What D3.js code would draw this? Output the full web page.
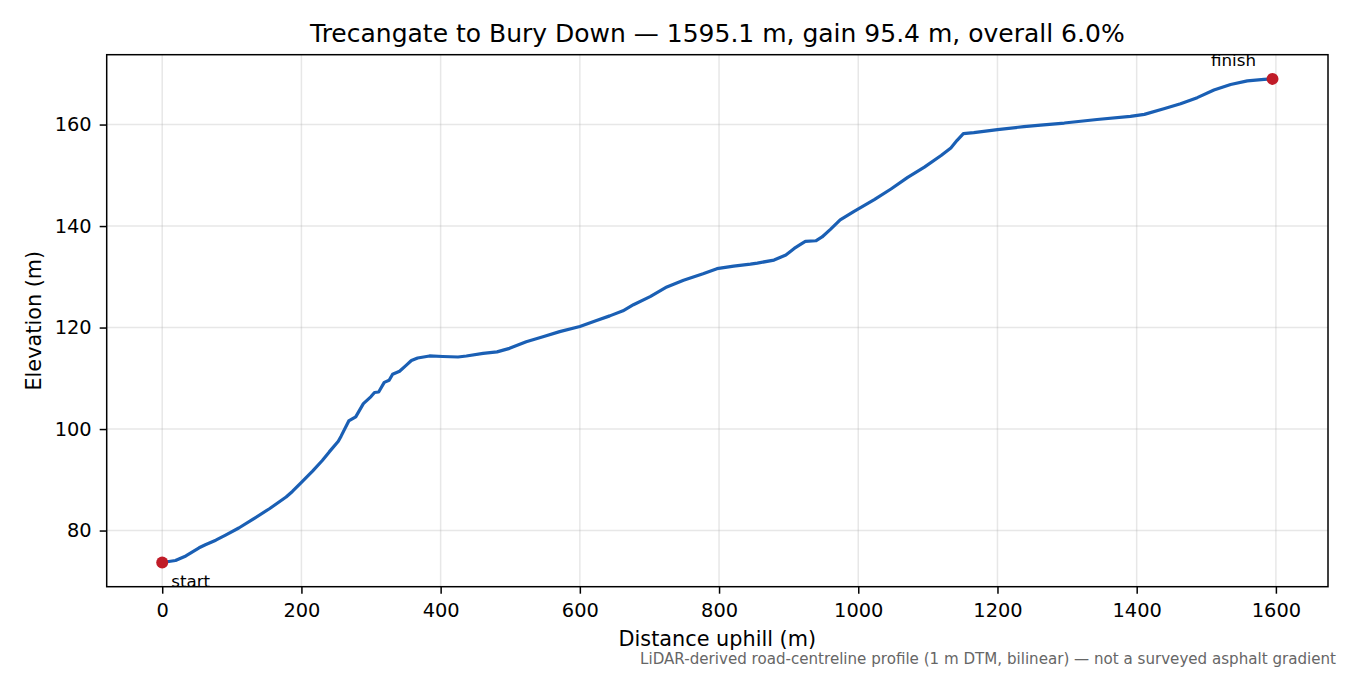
<!DOCTYPE html>
<html>
<head>
<meta charset="utf-8">
<script src="https://cdn.jsdelivr.net/npm/d3@7"></script>
<style>
  body { margin: 0; background: #fff; }
  text { font-family: "DejaVu Sans", sans-serif; }
</style>
</head>
<body>
<div id="chart"></div>
<script>
// profile, distance (m) vs elevation (m)
var distance = [0, 19, 34, 53, 62, 77, 91, 110, 130, 154, 178, 187, 200, 216, 230, 240, 253, 257, 268, 278,
  289, 300, 305, 311, 319, 326, 331, 341, 350, 358, 367, 384, 403, 425, 437, 461, 481, 499, 523, 547,
  571, 600, 624, 643, 662, 677, 701, 725, 749, 777, 797, 821, 845, 855, 879, 896, 908, 917, 924, 939,
  948, 960, 974, 994, 1023, 1047, 1071, 1095, 1119, 1133, 1142, 1151, 1166, 1200, 1238, 1262, 1296, 1343, 1391, 1411,
  1439, 1463, 1487, 1511, 1535, 1559, 1583, 1595.1];
var elevation = [73.7, 74.1, 75.0, 76.6, 77.2, 78.1, 79.1, 80.5, 82.2, 84.3, 86.6, 87.7, 89.5, 91.7, 93.8, 95.5, 97.6, 98.6, 101.6, 102.4,
  105.0, 106.4, 107.2, 107.3, 109.2, 109.6, 110.8, 111.4, 112.5, 113.5, 114.0, 114.4, 114.3, 114.2, 114.4, 114.9, 115.2, 115.9, 117.2, 118.2,
  119.2, 120.2, 121.4, 122.3, 123.3, 124.5, 126.1, 128.0, 129.3, 130.6, 131.6, 132.1, 132.5, 132.7, 133.3, 134.3, 135.6, 136.4, 137.0, 137.1,
  137.85, 139.35, 141.2, 142.9, 145.2, 147.3, 149.6, 151.6, 153.9, 155.4, 156.9, 158.2, 158.4, 159.0, 159.6, 159.9, 160.3, 161.0, 161.6, 162.0,
  163.1, 164.1, 165.3, 166.8, 167.9, 168.6, 168.9, 169.0];

var xTicks = [0, 200, 400, 600, 800, 1000, 1200, 1400, 1600];
var yTicks = [80, 100, 120, 140, 160];
var endLabels = ["start", "finish"];

var titleText = "Trecangate to Bury Down \u2014 1595.1 m, gain 95.4 m, overall 6.0%";
var xLabel = "Distance uphill (m)";
var yLabel = "Elevation (m)";
var footnote = "LiDAR-derived road-centreline profile (1 m DTM, bilinear) \u2014 not a surveyed asphalt gradient";

var W = 1350, H = 675;
var plotL = 106.7, plotR = 1328, plotT = 54.7, plotB = 586.7;

var svg = d3.select("#chart").append("svg")
  .attr("width", W)
  .attr("height", H);

// matplotlib-style 5% margins
var xExt = d3.extent(distance), yExt = d3.extent(elevation);
var xPad = (xExt[1] - xExt[0]) * 0.05, yPad = (yExt[1] - yExt[0]) * 0.05;

var x = d3.scaleLinear().domain([xExt[0] - xPad, xExt[1] + xPad]).range([plotL, plotR]);
var y = d3.scaleLinear().domain([yExt[0] - yPad, yExt[1] + yPad]).range([plotB, plotT]);

// grid
svg.append("g")
  .selectAll("line")
  .data(xTicks)
  .enter().append("line")
  .attr("x1", function(d) { return x(d); })
  .attr("x2", function(d) { return x(d); })
  .attr("y1", plotT)
  .attr("y2", plotB)
  .attr("stroke", "#b0b0b0")
  .attr("stroke-opacity", 0.3)
  .attr("stroke-width", 1.5);

svg.append("g")
  .selectAll("line")
  .data(yTicks)
  .enter().append("line")
  .attr("x1", plotL)
  .attr("x2", plotR)
  .attr("y1", function(d) { return y(d); })
  .attr("y2", function(d) { return y(d); })
  .attr("stroke", "#b0b0b0")
  .attr("stroke-opacity", 0.3)
  .attr("stroke-width", 1.5);

// axes
var xAxis = svg.append("g")
  .attr("transform", "translate(0," + plotB + ")")
  .call(d3.axisBottom(x).tickValues(xTicks).tickSize(7).tickPadding(9.5).tickFormat(d3.format("d")));
var yAxis = svg.append("g")
  .attr("transform", "translate(" + plotL + ",0)")
  .call(d3.axisLeft(y).tickValues(yTicks).tickSize(7).tickPadding(8).tickFormat(d3.format("d")));

[xAxis, yAxis].forEach(function(a) {
  a.select(".domain").remove();
  a.selectAll(".tick line").attr("stroke", "#000").attr("stroke-width", 1.5);
  a.selectAll(".tick text")
    .attr("fill", "#000")
    .style("font-family", "DejaVu Sans")
    .style("font-size", "19.4px");
});

// profile line
var line = d3.line()
  .x(function(d, i) { return x(distance[i]); })
  .y(function(d) { return y(d); });

svg.append("path")
  .datum(elevation)
  .attr("d", line)
  .attr("fill", "none")
  .attr("stroke", "#1a5fb4")
  .attr("stroke-width", 3.2)
  .attr("stroke-linejoin", "round")
  .attr("stroke-linecap", "round");

// start / finish markers
var ends = [0, distance.length - 1];
svg.append("g")
  .selectAll("circle")
  .data(ends)
  .enter().append("circle")
  .attr("cx", function(i) { return x(distance[i]); })
  .attr("cy", function(i) { return y(elevation[i]); })
  .attr("r", 6)
  .attr("fill", "#c01c28");

svg.append("text")
  .attr("x", x(distance[0]) + 9)
  .attr("y", y(elevation[0]) + 24)
  .style("font-size", "16.7px")
  .attr("fill", "#000")
  .text(endLabels[0]);

svg.append("text")
  .attr("x", x(distance[distance.length - 1]) - 16.5)
  .attr("y", y(elevation[elevation.length - 1]) - 13)
  .attr("text-anchor", "end")
  .style("font-size", "16.7px")
  .attr("fill", "#000")
  .text(endLabels[1]);

// frame
svg.append("rect")
  .attr("x", plotL)
  .attr("y", plotT)
  .attr("width", plotR - plotL)
  .attr("height", plotB - plotT)
  .attr("fill", "none")
  .attr("stroke", "#000")
  .attr("stroke-width", 1.5);

// texts
svg.append("text")
  .attr("x", (plotL + plotR) / 2)
  .attr("y", 42)
  .attr("text-anchor", "middle")
  .style("font-size", "25px")
  .text(titleText);

svg.append("text")
  .attr("x", (plotL + plotR) / 2)
  .attr("y", 646)
  .attr("text-anchor", "middle")
  .style("font-size", "20.8px")
  .text(xLabel);

svg.append("text")
  .attr("transform", "translate(41," + ((plotT + plotB) / 2) + ") rotate(-90)")
  .attr("text-anchor", "middle")
  .style("font-size", "20.8px")
  .text(yLabel);

svg.append("text")
  .attr("x", 1336)
  .attr("y", 664)
  .attr("text-anchor", "end")
  .attr("fill", "#666")
  .style("font-size", "15.1px")
  .text(footnote);
</script>
</body>
</html>
